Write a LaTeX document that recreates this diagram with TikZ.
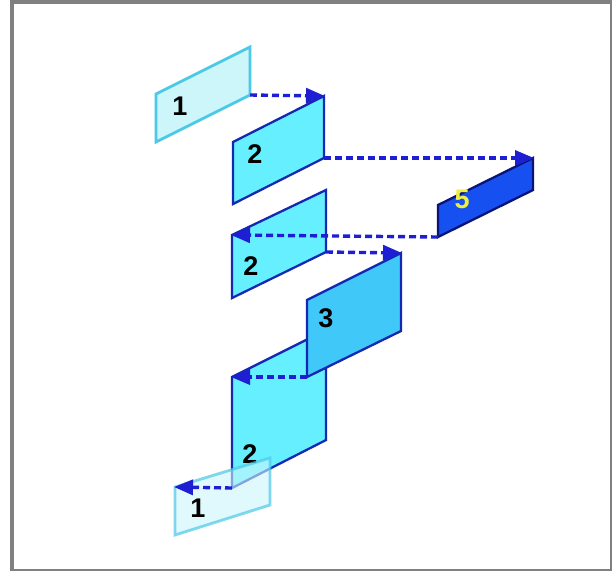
\documentclass[tikz,border=0pt]{standalone}
\usepackage{fontspec}
\setmainfont{Liberation Sans}
\usetikzlibrary{arrows.meta}

\definecolor{paleFill}{HTML}{CCF6FA}
\definecolor{paleLine}{HTML}{4CC8E8}
\definecolor{cyanFill}{HTML}{66F0FF}
\definecolor{deepFill}{HTML}{40C8F8}
\definecolor{royalFill}{HTML}{1650F0}
\definecolor{panelLine}{HTML}{1428B4}
\definecolor{navyLine}{HTML}{0A1478}
\definecolor{linkBlue}{HTML}{1E1ED2}
\definecolor{frameGray}{HTML}{808080}

\tikzset{
  palepanel/.style={fill=paleFill, draw=paleLine, line width=2.8pt, line join=miter},
  cyanpanel/.style={fill=cyanFill, draw=panelLine, line width=2.3pt, line join=miter},
  deeppanel/.style={fill=deepFill, draw=panelLine, line width=2.3pt, line join=miter},
  royalpanel/.style={fill=royalFill, draw=navyLine, line width=2.3pt, line join=miter},
  digit/.style={font=\fontsize{27}{27}\selectfont\bfseries, inner sep=0pt},
  link/.style={draw=linkBlue, line width=3.4pt, dash pattern=on 7pt off 4pt,
    -{Triangle[length=19pt,width=15pt]}, shorten >=-1pt},
}

\begin{document}
\begin{tikzpicture}[x=1pt,y=-1pt]
\useasboundingbox (0,0) rectangle (612,571);

% frame
\fill[frameGray] (10,0) rectangle (612,571);
\fill[white] (14,4) rectangle (610,569);

% panel corners: a = left top, b = left bottom, c = right top, d = right bottom
\coordinate (p1a) at (156,94);  \coordinate (p1b) at (156,142);
\coordinate (p1c) at (250,47);  \coordinate (p1d) at (250,95);

\coordinate (p2a) at (233,142); \coordinate (p2b) at (233,204);
\coordinate (p2c) at (324,96);  \coordinate (p2d) at (324,158);

\coordinate (q2a) at (232,235); \coordinate (q2b) at (232,298);
\coordinate (q2c) at (326,190); \coordinate (q2d) at (326,252);

\coordinate (p5a) at (438,205); \coordinate (p5b) at (438,237);
\coordinate (p5c) at (533,158); \coordinate (p5d) at (533,190);

\coordinate (p3a) at (307,300); \coordinate (p3b) at (307,377);
\coordinate (p3c) at (401,253); \coordinate (p3d) at (401,331);

\coordinate (r2a) at (232,377); \coordinate (r2b) at (232,488);
\coordinate (r2c) at (326,330); \coordinate (r2d) at (326,440);

\coordinate (q1a) at (175,487); \coordinate (q1b) at (175,535);
\coordinate (q1c) at (270,458); \coordinate (q1d) at (270,505);

% upper chain
\path[palepanel] (p1a) -- (p1c) -- (p1d) -- (p1b) -- cycle;
\node[digit] (n1) at (180,106) {1};

\path[cyanpanel] (p2a) -- (p2c) -- (p2d) -- (p2b) -- cycle;
\node[digit] (n2) at (255,154) {2};

\path[cyanpanel] (q2a) -- (q2c) -- (q2d) -- (q2b) -- cycle;
\node[digit] (m2) at (251,266) {2};

\path[royalpanel] (p5a) -- (p5c) -- (p5d) -- (p5b) -- cycle;
\node[digit, text={rgb,255:red,240;green,240;blue,60}] (n5) at (462,199) {5};

% lower chain
\path[cyanpanel] (r2a) -- (r2c) -- (r2d) -- (r2b) -- cycle;
\node[digit] (k2) at (250,454) {2};

\path[deeppanel] (p3a) -- (p3c) -- (p3d) -- (p3b) -- cycle;
\node[digit] (n3) at (326,318) {3};

\path[palepanel, fill opacity=0.6, draw opacity=0.7] (q1a) -- (q1c) -- (q1d) -- (q1b) -- cycle;
\node[digit] (m1) at (198,508) {1};

% connectors
\draw[link] (p1d) -- (p2c);
\draw[link] (p2d) -- (p5c);
\draw[link] (p5b) -- (q2a);
\draw[link] (q2d) -- (p3c);
\draw[link] (p3b) -- (r2a);
\draw[link] (r2b) -- (q1a);
\end{tikzpicture}
\end{document}
